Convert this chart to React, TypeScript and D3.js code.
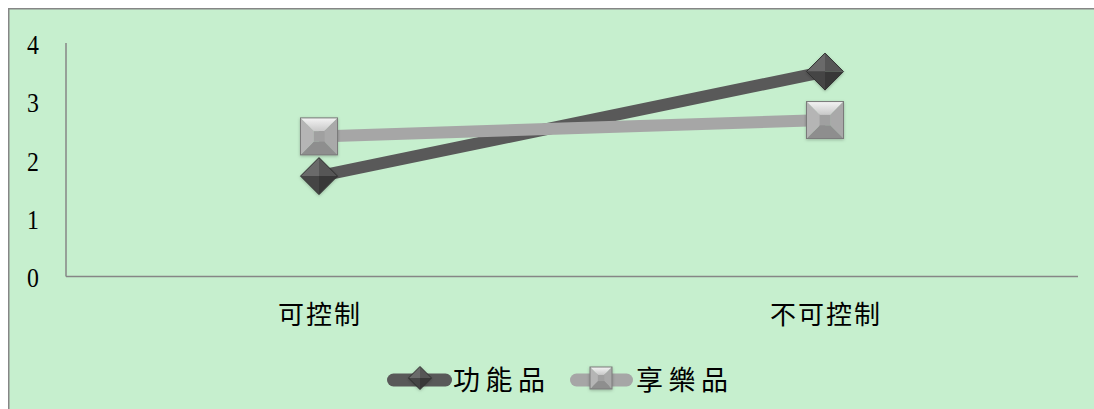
import React from "react";
import * as d3 from "d3";

const categories = ["可控制", "不可控制"];
const seriesNames = ["功能品", "享樂品"];
const functionalValues = [1.72, 3.51];
const hedonicValues = [2.4, 2.68];
const yTicks = [0, 1, 2, 3, 4];

const W = 1094;
const H = 409;
const BG = "#C6EFCE";
const CJK = "'Noto Sans CJK TC', 'Noto Sans CJK SC', sans-serif";
const NUM = "'Liberation Serif', 'DejaVu Serif', serif";

const x = d3.scaleBand<string>().domain(categories).range([66, 1078]);
const y = d3.scaleLinear().domain([0, 4]).range([276.5, 43]);

function Diamond({ cx, cy, r }: { cx: number; cy: number; r: number }) {
  const t = [cx, cy - r];
  const ri = [cx + r, cy];
  const b = [cx, cy + r];
  const l = [cx - r, cy];
  const c = [cx, cy];
  const p = (...pts: number[][]) => pts.map((q) => q.join(",")).join(" ");
  return (
    <g filter="url(#shadow)">
      <polygon points={p(l, t, c)} fill="#6b6b6b" />
      <polygon points={p(t, ri, c)} fill="#575757" />
      <polygon points={p(l, b, c)} fill="#454545" />
      <polygon points={p(b, ri, c)} fill="#383838" />
      <polygon points={p(t, ri, b, l)} fill="none" stroke="#2e2e2e" strokeWidth={1} />
    </g>
  );
}

function Square({ cx, cy, s }: { cx: number; cy: number; s: number }) {
  const h = s / 2;
  const i = s * 0.14;
  const o = [
    [cx - h, cy - h],
    [cx + h, cy - h],
    [cx + h, cy + h],
    [cx - h, cy + h],
  ];
  const n = [
    [cx - i, cy - i],
    [cx + i, cy - i],
    [cx + i, cy + i],
    [cx - i, cy + i],
  ];
  const p = (...pts: number[][]) => pts.map((q) => q.join(",")).join(" ");
  return (
    <g filter="url(#shadow)">
      <polygon points={p(o[0], o[1], n[1], n[0])} fill="url(#sqTop)" />
      <polygon points={p(o[1], o[2], n[2], n[1])} fill="#a9a9a9" />
      <polygon points={p(o[2], o[3], n[3], n[2])} fill="#8e8e8e" />
      <polygon points={p(o[3], o[0], n[0], n[3])} fill="#b5b5b5" />
      <polygon points={p(...n)} fill="#a0a0a0" />
      <rect x={cx - h} y={cy - h} width={s} height={s} fill="none" stroke="#7a7a7a" strokeWidth={1} />
    </g>
  );
}

export default function App() {
  const cxs = categories.map((c) => (x(c) as number) + x.bandwidth() / 2);
  const line = d3
    .line<number>()
    .x((_, i) => cxs[i])
    .y((v) => y(v));

  return (
    <svg
      width={W}
      height={H}
      style={{ position: "absolute", left: 0, top: 0, display: "block" }}
    >
      <defs>
        <linearGradient id="sqTop" x1="0" y1="0" x2="0" y2="1">
          <stop offset="0" stopColor="#f4f4f4" />
          <stop offset="1" stopColor="#c8c8c8" />
        </linearGradient>
        <filter id="shadow" x="-30%" y="-30%" width="160%" height="160%">
          <feDropShadow dx="0" dy="1" stdDeviation="1.5" floodColor="#000" floodOpacity="0.25" />
        </filter>
      </defs>
      <rect x={8.75} y={8.75} width={1200} height={600} fill={BG} stroke="#868686" strokeWidth={1.5} />

      {/* axes */}
      <line x1={66} x2={66} y1={y(4)} y2={y(0)} stroke="#868686" strokeWidth={1.5} />
      <line x1={66} x2={1078} y1={y(0)} y2={y(0)} stroke="#868686" strokeWidth={1.5} />

      {yTicks.map((t) => (
        <text
          key={t}
          x={33}
          y={y(t) + 11}
          textAnchor="middle"
          fontFamily={NUM}
          fontSize={28}
          fill="#000"
          transform={`translate(33,0) scale(0.85,1) translate(-33,0)`}
        >
          {t}
        </text>
      ))}

      {categories.map((c, i) => (
        <text
          key={c}
          x={cxs[i] + 1}
          y={324}
          textAnchor="middle"
          fontFamily={CJK}
          fontSize={26}
          letterSpacing={2}
          fill="#000"
        >
          {c}
        </text>
      ))}

      {/* series lines */}
      <path d={line(functionalValues) || ""} fill="none" stroke="#595959" strokeWidth={12} />
      <path d={line(hedonicValues) || ""} fill="none" stroke="#a6a6a6" strokeWidth={12} />

      {functionalValues.map((v, i) => (
        <Diamond key={"d" + i} cx={cxs[i]} cy={y(v)} r={18.5} />
      ))}
      {hedonicValues.map((v, i) => (
        <Square key={"s" + i} cx={cxs[i]} cy={y(v)} s={37} />
      ))}

      {/* legend */}
      <line x1={393.5} x2={445.5} y1={380} y2={380} stroke="#595959" strokeWidth={13} strokeLinecap="round" />
      <Diamond cx={420} cy={378} r={11.5} />
      <text x={453} y={390} fontFamily={CJK} fontSize={27} letterSpacing={5.5} fill="#000">
        {seriesNames[0]}
      </text>
      <line x1={576.5} x2={626.5} y1={380} y2={380} stroke="#a6a6a6" strokeWidth={13} strokeLinecap="round" />
      <Square cx={601} cy={378} s={22} />
      <text x={636} y={390} fontFamily={CJK} fontSize={27} letterSpacing={5.5} fill="#000">
        {seriesNames[1]}
      </text>
    </svg>
  );
}
